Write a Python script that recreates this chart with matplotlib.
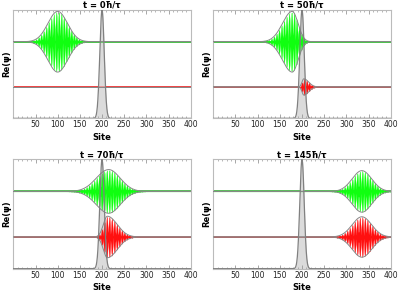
import numpy as np
import matplotlib
matplotlib.use("Agg")
import matplotlib.pyplot as plt
from matplotlib.ticker import MultipleLocator

# ---- data ----
sites = np.arange(0, 401)
times = ["0", "50", "70", "145"]
green_center = [100, 178, 215, 335]
green_sigma_left = [22, 22, 28, 22]
green_sigma_right = [22, 13, 26, 22]
green_amp = [0.28, 0.28, 0.20, 0.19]
red_center = [200, 204, 212, 335]
red_sigma_left = [5, 4, 9, 22]
red_sigma_right = [5, 11, 22, 22]
red_amp = [0.0, 0.075, 0.19, 0.185]
wave_k = 2.59
barrier_center = 200
barrier_sigma = 5
barrier_height = 1.0
green_offset = 0.707
red_offset = 0.29
xticks = [50, 100, 150, 200, 250, 300, 350, 400]


def envelope(c, sl, sr, a):
    s = np.where(sites < c, sl, sr)
    return a * np.exp(-(sites - c) ** 2 / (2.0 * s ** 2))


fig = plt.figure(figsize=(3.99, 2.93), dpi=100)
positions = [
    [0.0334, 0.596, 0.4446, 0.370],
    [0.5346, 0.596, 0.4446, 0.370],
    [0.0334, 0.083, 0.4446, 0.373],
    [0.5346, 0.083, 0.4446, 0.373],
]

for i, pos in enumerate(positions):
    ax = fig.add_axes(pos)
    # barrier / central peak (fill behind packets)
    xb = np.linspace(0, 400, 2001)
    bar = barrier_height * np.exp(-(xb - barrier_center) ** 2 / (2.0 * barrier_sigma ** 2))
    ax.fill_between(xb, 0, bar, color="#d8d8d8", alpha=0.9, lw=0, zorder=1.5)
    ax.plot(xb, bar, color="#808080", lw=0.9, zorder=5)
    # green packet
    ge = envelope(green_center[i], green_sigma_left[i], green_sigma_right[i], green_amp[i])
    gpsi = np.abs(ge * np.cos(wave_k * sites))
    ax.axhline(green_offset, color="#55c455", lw=1.4, zorder=1)
    ax.fill_between(sites, green_offset - gpsi, green_offset + gpsi, facecolor="#10ff10",
                    edgecolor="#10ff10", lw=0.2, zorder=2)
    ax.plot(sites, green_offset + ge, color="#888888", lw=0.7, zorder=3)
    ax.plot(sites, green_offset - ge, color="#888888", lw=0.7, zorder=3)
    # red packet
    re = envelope(red_center[i], red_sigma_left[i], red_sigma_right[i], red_amp[i])
    rpsi = np.abs(re * np.cos(wave_k * sites))
    ax.axhline(red_offset, color="#e85a5a", lw=1.4, zorder=1)
    ax.fill_between(sites, red_offset - rpsi, red_offset + rpsi, facecolor="#ff1010",
                    edgecolor="#ff1010", lw=0.2, zorder=2)
    ax.plot(sites, red_offset + re, color="#888888", lw=0.7, zorder=3)
    ax.plot(sites, red_offset - re, color="#888888", lw=0.7, zorder=3)

    ax.set_xlim(0, 400)
    ax.set_ylim(0, 1)
    ax.set_yticks([])
    ax.set_xticks(xticks)
    ax.xaxis.set_minor_locator(MultipleLocator(10))
    ax.tick_params(axis="x", which="both", direction="in", top=True,
                   labelsize=5.5, pad=1.5, colors="#999999", labelcolor="#222222")
    ax.tick_params(axis="x", which="major", length=3, width=0.6)
    ax.tick_params(axis="x", which="minor", length=1.5, width=0.5)
    for sp in ax.spines.values():
        sp.set_color("#bbbbbb")
        sp.set_linewidth(0.8)
    ax.set_xlabel("Site", fontsize=6, fontweight="bold", labelpad=2.5)
    ax.set_ylabel("Re(ψ)", fontsize=6, fontweight="bold", labelpad=1.5)
    ax.set_title("t = " + times[i] + "ħ/τ", fontsize=6, fontweight="bold", pad=1.0)

fig.savefig("out.png", dpi=100)
